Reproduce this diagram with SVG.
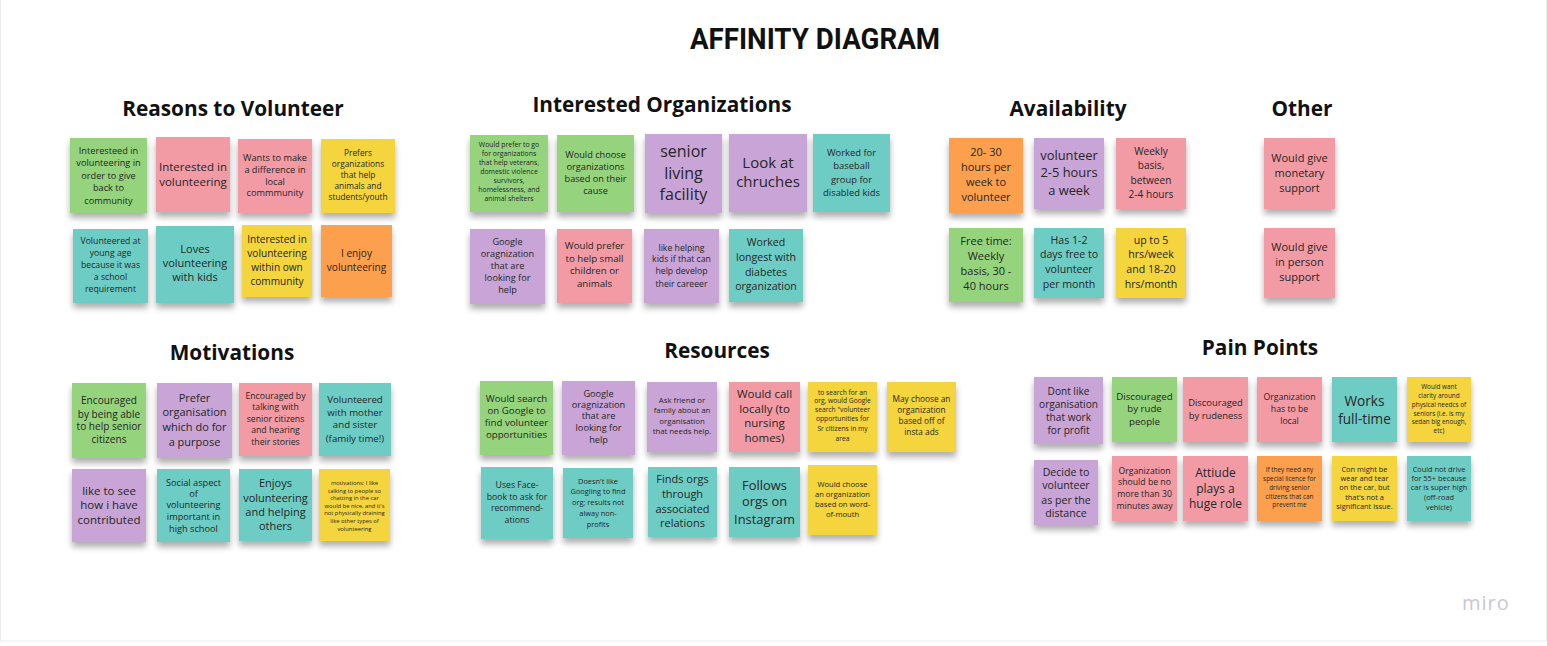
<svg xmlns="http://www.w3.org/2000/svg" width="1547" height="646" viewBox="0 0 1547 646">
<defs>
<filter id="sh" x="-20%" y="-20%" width="140%" height="150%">
<feOffset in="SourceAlpha" dx="0" dy="5" result="o"/>
<feGaussianBlur in="o" stdDeviation="3" result="b"/>
<feComponentTransfer in="b" result="s"><feFuncA type="linear" slope="0.32"/></feComponentTransfer>
<feMerge><feMergeNode in="s"/><feMergeNode in="SourceGraphic"/></feMerge>
</filter>
<style>
.bg{fill:#ffffff}
.frame{fill:none;stroke:#ececec;stroke-width:1}
.title{font-family:"Liberation Sans Narrow","Roboto","Liberation Sans",sans-serif;font-weight:bold;font-size:29px;fill:#111;text-anchor:middle}
.head{font-family:"Open Sans","Liberation Sans",sans-serif;font-weight:bold;font-size:20.8px;fill:#111;text-anchor:middle}
.note rect{filter:url(#sh)}
.note text{font-family:"Open Sans","Liberation Sans",sans-serif;fill:#262626;text-anchor:middle}
.g{fill:#95d47b}.p{fill:#f29ba5}.y{fill:#f5d53c}.o{fill:#fca04e}.v{fill:#c9a4d6}.t{fill:#6dcdc4}
.logo{font-family:"Open Sans","Liberation Sans",sans-serif;font-size:20px;fill:#c8c8d2;letter-spacing:1px}
</style>
</defs>
<rect class="bg" x="0" y="0" width="1547" height="646"/>
<rect class="frame" x="0.5" y="-2" width="1546" height="643"/>

<text class="title" x="815" y="49" textLength="250" lengthAdjust="spacingAndGlyphs">AFFINITY DIAGRAM</text>

<g id="headings">
<text class="head" x="233" y="116">Reasons to Volunteer</text>
<text class="head" x="662" y="112">Interested Organizations</text>
<text class="head" x="1068" y="116">Availability</text>
<text class="head" x="1302" y="116">Other</text>
<text class="head" x="232" y="360">Motivations</text>
<text class="head" x="717" y="358">Resources</text>
<text class="head" x="1260" y="355">Pain Points</text>
</g>

<!-- Reasons to Volunteer -->
<g id="r1" class="note"><rect class="g" x="70" y="138" width="77" height="75"/><text font-size="9.2"><tspan x="108.5" y="154.2">Interesteed in</tspan><tspan x="108.5" y="166.2">volunteering in</tspan><tspan x="108.5" y="179.2">order to give</tspan><tspan x="108.5" y="191.2">back to</tspan><tspan x="108.5" y="204.2">community</tspan></text></g>
<g id="r2" class="note"><rect class="p" x="156" y="137" width="74" height="75"/><text font-size="11.5"><tspan x="193" y="171">Interested in</tspan><tspan x="193" y="186">volunteering</tspan></text></g>
<g id="r3" class="note"><rect class="p" x="238" y="139" width="74" height="74"/><text font-size="9.2"><tspan x="275" y="161.2">Wants to make</tspan><tspan x="275" y="173.2">a difference in</tspan><tspan x="275" y="185.2">local</tspan><tspan x="275" y="196.2">commmunity</tspan></text></g>
<g id="r4" class="note"><rect class="y" x="321" y="139" width="74" height="74"/><text font-size="8.3"><tspan x="358" y="155.9">Prefers</tspan><tspan x="358" y="166.9">organizations</tspan><tspan x="358" y="177.9">that help</tspan><tspan x="358" y="188.9">animals and</tspan><tspan x="358" y="199.9">students/youth</tspan></text></g>
<g id="r5" class="note"><rect class="t" x="73" y="229" width="75" height="74"/><text font-size="8.7"><tspan x="110.5" y="244">Volunteered at</tspan><tspan x="110.5" y="256">young age</tspan><tspan x="110.5" y="268">because it was</tspan><tspan x="110.5" y="280">a school</tspan><tspan x="110.5" y="292">requirement</tspan></text></g>
<g id="r6" class="note"><rect class="t" x="156" y="226" width="78" height="77"/><text font-size="11"><tspan x="195" y="252.8">Loves</tspan><tspan x="195" y="266.8">volunteering</tspan><tspan x="195" y="280.8">with kids</tspan></text></g>
<g id="r7" class="note"><rect class="y" x="242" y="225" width="70" height="72"/><text font-size="10.1"><tspan x="277" y="242.5">Interested in</tspan><tspan x="277" y="256.5">volunteering</tspan><tspan x="277" y="270.5">within own</tspan><tspan x="277" y="284.5">community</tspan></text></g>
<g id="r8" class="note"><rect class="o" x="321" y="225" width="71" height="72"/><text font-size="10.1"><tspan x="356.5" y="256.5">I enjoy</tspan><tspan x="356.5" y="270.5">volunteering</tspan></text></g>

<!-- Interested Organizations -->
<g id="i1" class="note"><rect class="g" x="470" y="135" width="78" height="77"/><text font-size="6.9"><tspan x="509" y="147.1">Would prefer to go</tspan><tspan x="509" y="156.1">for organizations</tspan><tspan x="509" y="165.1">that help veterans,</tspan><tspan x="509" y="174.1">domestic violence</tspan><tspan x="509" y="183.1">survivors,</tspan><tspan x="509" y="192.1">homelessness, and</tspan><tspan x="509" y="201.1">animal shelters</tspan></text></g>
<g id="i2" class="note"><rect class="g" x="557" y="135" width="77" height="77"/><text font-size="9.2"><tspan x="595.5" y="157.9">Would choose</tspan><tspan x="595.5" y="169.9">organizations</tspan><tspan x="595.5" y="181.9">based on their</tspan><tspan x="595.5" y="193.9">cause</tspan></text></g>
<g id="i3" class="note"><rect class="v" x="645" y="134" width="77" height="79"/><text font-size="16"><tspan x="683.5" y="156.9">senior</tspan><tspan x="683.5" y="178.6">living</tspan><tspan x="683.5" y="200.3">facility</tspan></text></g>
<g id="i4" class="note"><rect class="v" x="729" y="134" width="78" height="78"/><text font-size="15"><tspan x="768" y="168.2">Look at</tspan><tspan x="768" y="187.2">chruches</tspan></text></g>
<g id="i5" class="note"><rect class="t" x="813" y="134" width="77" height="78"/><text font-size="9.4"><tspan x="851.5" y="155.9">Worked for</tspan><tspan x="851.5" y="169.4">baseball</tspan><tspan x="851.5" y="182.9">group for</tspan><tspan x="851.5" y="196.4">disabled kids</tspan></text></g>
<g id="i6" class="note"><rect class="v" x="470" y="229" width="75" height="75"/><text font-size="9.2"><tspan x="507.5" y="244.7">Google</tspan><tspan x="507.5" y="256.7">oragnization</tspan><tspan x="507.5" y="268.7">that are</tspan><tspan x="507.5" y="280.7">looking for</tspan><tspan x="507.5" y="292.7">help</tspan></text></g>
<g id="i7" class="note"><rect class="p" x="557" y="229" width="75" height="74"/><text font-size="9.7"><tspan x="594.5" y="249.4">Would prefer</tspan><tspan x="594.5" y="262.1">to help small</tspan><tspan x="594.5" y="274.4">children or</tspan><tspan x="594.5" y="287.4">animals</tspan></text></g>
<g id="i8" class="note"><rect class="v" x="644" y="229" width="75" height="74"/><text font-size="8.7"><tspan x="681.5" y="250.7">like helping</tspan><tspan x="681.5" y="262.3">kids if that can</tspan><tspan x="681.5" y="274.3">help develop</tspan><tspan x="681.5" y="286.7">their careeer</tspan></text></g>
<g id="i9" class="note"><rect class="t" x="729" y="229" width="74" height="73"/><text font-size="10.6"><tspan x="766" y="246.4">Worked</tspan><tspan x="766" y="261.4">longest with</tspan><tspan x="766" y="275.7">diabetes</tspan><tspan x="766" y="289.7">organization</tspan></text></g>

<!-- Availability -->
<g id="a1" class="note"><rect class="o" x="949" y="138" width="74" height="75"/><text font-size="11"><tspan x="986" y="156.1">20- 30</tspan><tspan x="986" y="171.1">hours per</tspan><tspan x="986" y="186.1">week to</tspan><tspan x="986" y="201.1">volunteer</tspan></text></g>
<g id="a2" class="note"><rect class="v" x="1034" y="138" width="70" height="71"/><text font-size="12.9"><tspan x="1069" y="160.2">volunteer</tspan><tspan x="1069" y="177.2">2-5 hours</tspan><tspan x="1069" y="194.5">a week</tspan></text></g>
<g id="a3" class="note"><rect class="p" x="1116" y="138" width="70" height="71"/><text font-size="10.1"><tspan x="1151" y="155.2">Weekly</tspan><tspan x="1151" y="169.2">basis,</tspan><tspan x="1151" y="183.5">between</tspan><tspan x="1151" y="197.5">2-4 hours</tspan></text></g>
<g id="a4" class="note"><rect class="g" x="949" y="228" width="74" height="74"/><text font-size="11"><tspan x="986" y="244.5">Free time:</tspan><tspan x="986" y="259.8">Weekly</tspan><tspan x="986" y="274.5">basis, 30 -</tspan><tspan x="986" y="289.8">40 hours</tspan></text></g>
<g id="a5" class="note"><rect class="t" x="1034" y="228" width="70" height="70"/><text font-size="10.6"><tspan x="1069" y="243.7">Has 1-2</tspan><tspan x="1069" y="258">days free to</tspan><tspan x="1069" y="272.7">volunteer</tspan><tspan x="1069" y="287.7">per month</tspan></text></g>
<g id="a6" class="note"><rect class="y" x="1116" y="228" width="70" height="70"/><text font-size="10.6"><tspan x="1151" y="243.7">up to 5</tspan><tspan x="1151" y="258">hrs/week</tspan><tspan x="1151" y="272.7">and 18-20</tspan><tspan x="1151" y="287.7">hrs/month</tspan></text></g>

<!-- Other -->
<g id="o1" class="note"><rect class="p" x="1264" y="138" width="71" height="71"/><text font-size="11"><tspan x="1299.5" y="162.1">Would give</tspan><tspan x="1299.5" y="177.1">monetary</tspan><tspan x="1299.5" y="192.1">support</tspan></text></g>
<g id="o2" class="note"><rect class="p" x="1264" y="228" width="71" height="70"/><text font-size="11"><tspan x="1299.5" y="251.1">Would give</tspan><tspan x="1299.5" y="266.1">in person</tspan><tspan x="1299.5" y="281.1">support</tspan></text></g>

<!-- Motivations -->
<g id="m1" class="note"><rect class="g" x="72" y="383" width="74" height="75"/><text font-size="10.1"><tspan x="109" y="404.2">Encouraged</tspan><tspan x="109" y="417.5">by being able</tspan><tspan x="109" y="430.2">to help senior</tspan><tspan x="109" y="442.8">citizens</tspan></text></g>
<g id="m2" class="note"><rect class="v" x="157" y="383" width="75" height="75"/><text font-size="11"><tspan x="194.5" y="402.1">Prefer</tspan><tspan x="194.5" y="416.1">organisation</tspan><tspan x="194.5" y="431.1">which do for</tspan><tspan x="194.5" y="445.5">a purpose</tspan></text></g>
<g id="m3" class="note"><rect class="p" x="239" y="383" width="73" height="73"/><text font-size="8.7"><tspan x="275.5" y="399">Encouraged by</tspan><tspan x="275.5" y="410.3">talking with</tspan><tspan x="275.5" y="421.7">senior citizens</tspan><tspan x="275.5" y="433.3">and hearing</tspan><tspan x="275.5" y="444.7">their stories</tspan></text></g>
<g id="m4" class="note"><rect class="t" x="319" y="383" width="72" height="73"/><text font-size="9.7"><tspan x="355" y="403.4">Volunteered</tspan><tspan x="355" y="416.1">with mother</tspan><tspan x="355" y="428.4">and sister</tspan><tspan x="355" y="441.7">(family time!)</tspan></text></g>
<g id="m5" class="note"><rect class="v" x="72" y="469" width="74" height="73"/><text font-size="11.5"><tspan x="109" y="494.7">like to see</tspan><tspan x="109" y="509">how i have</tspan><tspan x="109" y="524">contributed</tspan></text></g>
<g id="m6" class="note"><rect class="t" x="157" y="469" width="73" height="73"/><text font-size="9.2"><tspan x="193.5" y="485.5">Social aspect</tspan><tspan x="193.5" y="497.2">of</tspan><tspan x="193.5" y="508.2">volunteering</tspan><tspan x="193.5" y="519.9">important in</tspan><tspan x="193.5" y="532.2">high school</tspan></text></g>
<g id="m7" class="note"><rect class="t" x="239" y="469" width="73" height="72"/><text font-size="11"><tspan x="275.5" y="487.1">Enjoys</tspan><tspan x="275.5" y="501.5">volunteering</tspan><tspan x="275.5" y="515.5">and helping</tspan><tspan x="275.5" y="529.5">others</tspan></text></g>
<g id="m8" class="note"><rect class="y" x="319" y="469" width="71" height="72"/><text font-size="5.8"><tspan x="354.5" y="484.7">motivations: I like</tspan><tspan x="354.5" y="492.7">talking to people so</tspan><tspan x="354.5" y="500.3">chatting in the car</tspan><tspan x="354.5" y="508">would be nice, and it's</tspan><tspan x="354.5" y="515.3">not physically draining</tspan><tspan x="354.5" y="523">like other types of</tspan><tspan x="354.5" y="531">volunteering</tspan></text></g>

<!-- Resources -->
<g id="s1" class="note"><rect class="g" x="480" y="381" width="73" height="74"/><text font-size="9.7"><tspan x="516.5" y="402.4">Would search</tspan><tspan x="516.5" y="414.4">on Google to</tspan><tspan x="516.5" y="426.1">find volunteer</tspan><tspan x="516.5" y="438.4">opportunities</tspan></text></g>
<g id="s2" class="note"><rect class="v" x="562" y="381" width="73" height="74"/><text font-size="9.2"><tspan x="598.5" y="396.5">Google</tspan><tspan x="598.5" y="408.2">oragnization</tspan><tspan x="598.5" y="419.2">that are</tspan><tspan x="598.5" y="430.9">looking for</tspan><tspan x="598.5" y="442.5">help</tspan></text></g>
<g id="s3" class="note"><rect class="v" x="647" y="382" width="70" height="70"/><text font-size="7.8"><tspan x="682" y="402.7">Ask friend or</tspan><tspan x="682" y="413.4">family about an</tspan><tspan x="682" y="424.4">organisation</tspan><tspan x="682" y="434.4">that needs help.</tspan></text></g>
<g id="s4" class="note"><rect class="p" x="729" y="382" width="71" height="70"/><text font-size="11.5"><tspan x="764.5" y="398">Would call</tspan><tspan x="764.5" y="413">locally (to</tspan><tspan x="764.5" y="427.3">nursing</tspan><tspan x="764.5" y="442.3">homes)</tspan></text></g>
<g id="s5" class="note"><rect class="y" x="808" y="382" width="69" height="70"/><text font-size="6.7"><tspan x="842.5" y="394.6">to search for an</tspan><tspan x="842.5" y="403.3">org, would Google</tspan><tspan x="842.5" y="412.3">search "volunteer</tspan><tspan x="842.5" y="421.3">opportunities for</tspan><tspan x="842.5" y="430.6">Sr citizens in my</tspan><tspan x="842.5" y="440.6">area</tspan></text></g>
<g id="s6" class="note"><rect class="y" x="887" y="382" width="69" height="70"/><text font-size="8.3"><tspan x="921.5" y="401.9">May choose an</tspan><tspan x="921.5" y="412.9">organization</tspan><tspan x="921.5" y="423.9">based off of</tspan><tspan x="921.5" y="435.2">insta ads</tspan></text></g>
<g id="s7" class="note"><rect class="t" x="481" y="467" width="72" height="72"/><text font-size="8.7"><tspan x="517" y="488">Uses Face-</tspan><tspan x="517" y="499.7">book to ask for</tspan><tspan x="517" y="511.3">recommend-</tspan><tspan x="517" y="523">ations</tspan></text></g>
<g id="s8" class="note"><rect class="t" x="563" y="468" width="70" height="70"/><text font-size="7.4"><tspan x="598" y="484.3">Doesn't like</tspan><tspan x="598" y="494.3">Googling to find</tspan><tspan x="598" y="505.3">org; results not</tspan><tspan x="598" y="515.9">alway non-</tspan><tspan x="598" y="526.6">profits</tspan></text></g>
<g id="s9" class="note"><rect class="t" x="648" y="467" width="69" height="70"/><text font-size="11"><tspan x="682.5" y="482.8">Finds orgs</tspan><tspan x="682.5" y="497.8">through</tspan><tspan x="682.5" y="512.8">associated</tspan><tspan x="682.5" y="527.1">relations</tspan></text></g>
<g id="s10" class="note"><rect class="t" x="729" y="467" width="71" height="70"/><text font-size="12.9"><tspan x="764.5" y="489.5">Follows</tspan><tspan x="764.5" y="506.2">orgs on</tspan><tspan x="764.5" y="523.8">Instagram</tspan></text></g>
<g id="s11" class="note"><rect class="y" x="808" y="465" width="69" height="70"/><text font-size="7.6"><tspan x="842.5" y="486.7">Would choose</tspan><tspan x="842.5" y="497">an organization</tspan><tspan x="842.5" y="506.7">based on word-</tspan><tspan x="842.5" y="516.7">of-mouth</tspan></text></g>

<!-- Pain Points -->
<g id="p1" class="note"><rect class="v" x="1034" y="377" width="69" height="67"/><text font-size="10.1"><tspan x="1068.5" y="395.2">Dont like</tspan><tspan x="1068.5" y="407.8">organisation</tspan><tspan x="1068.5" y="420.8">that work</tspan><tspan x="1068.5" y="434.2">for profit</tspan></text></g>
<g id="p2" class="note"><rect class="g" x="1112" y="377" width="65" height="65"/><text font-size="9.7"><tspan x="1144.5" y="400.1">Discouraged</tspan><tspan x="1144.5" y="412.4">by rude</tspan><tspan x="1144.5" y="425.1">people</tspan></text></g>
<g id="p3" class="note"><rect class="p" x="1183" y="377" width="65" height="65"/><text font-size="9.4"><tspan x="1215.5" y="406">Discouraged</tspan><tspan x="1215.5" y="419">by rudeness</tspan></text></g>
<g id="p4" class="note"><rect class="p" x="1257" y="377" width="65" height="65"/><text font-size="8.7"><tspan x="1289.5" y="400.3">Organization</tspan><tspan x="1289.5" y="412">has to be</tspan><tspan x="1289.5" y="424">local</tspan></text></g>
<g id="p5" class="note"><rect class="t" x="1332" y="377" width="65" height="65"/><text font-size="13.6"><tspan x="1364.5" y="405.5">Works</tspan><tspan x="1364.5" y="423.8">full-time</tspan></text></g>
<g id="p6" class="note"><rect class="y" x="1407" y="377" width="64" height="65"/><text font-size="6.4"><tspan x="1439" y="389">Would want</tspan><tspan x="1439" y="398">clarity around</tspan><tspan x="1439" y="406.6">physical needcs of</tspan><tspan x="1439" y="415.6">seniors (i.e. is my</tspan><tspan x="1439" y="424">sedan big enough,</tspan><tspan x="1439" y="433">etc)</tspan></text></g>
<g id="p7" class="note"><rect class="v" x="1034" y="460" width="64" height="65"/><text font-size="10.6"><tspan x="1066" y="476">Decide to</tspan><tspan x="1066" y="489">volunteer</tspan><tspan x="1066" y="503.7">as per the</tspan><tspan x="1066" y="517">distance</tspan></text></g>
<g id="p8" class="note"><rect class="p" x="1112" y="456" width="65" height="65"/><text font-size="8.7"><tspan x="1144.5" y="473.7">Organization</tspan><tspan x="1144.5" y="485.3">should be no</tspan><tspan x="1144.5" y="497">more than 30</tspan><tspan x="1144.5" y="508.7">minutes away</tspan></text></g>
<g id="p9" class="note"><rect class="p" x="1183" y="456" width="65" height="65"/><text font-size="12"><tspan x="1215.5" y="476.5">Attiude</tspan><tspan x="1215.5" y="492.5">plays a</tspan><tspan x="1215.5" y="507.5">huge role</tspan></text></g>
<g id="p10" class="note"><rect class="o" x="1257" y="456" width="65" height="65"/><text font-size="6.4"><tspan x="1289.5" y="471.6">If they need any</tspan><tspan x="1289.5" y="480.6">special licence for</tspan><tspan x="1289.5" y="490">driving senior</tspan><tspan x="1289.5" y="499">citizens that can</tspan><tspan x="1289.5" y="507.3">prevent me</tspan></text></g>
<g id="p11" class="note"><rect class="y" x="1332" y="456" width="65" height="65"/><text font-size="7.4"><tspan x="1364.5" y="471.6">Con might be</tspan><tspan x="1364.5" y="480.9">wear and tear</tspan><tspan x="1364.5" y="490.3">on the car, but</tspan><tspan x="1364.5" y="499.9">that's not a</tspan><tspan x="1364.5" y="509.3">significant issue.</tspan></text></g>
<g id="p12" class="note"><rect class="t" x="1407" y="456" width="64" height="65"/><text font-size="7.4"><tspan x="1439" y="471.6">Could not drive</tspan><tspan x="1439" y="480.9">for 55+ because</tspan><tspan x="1439" y="490.3">car is super high</tspan><tspan x="1439" y="499.9">(off-road</tspan><tspan x="1439" y="509.9">vehicle)</tspan></text></g>

<g id="connectors"></g>

<text class="logo" x="1462" y="610">miro</text>
</svg>
